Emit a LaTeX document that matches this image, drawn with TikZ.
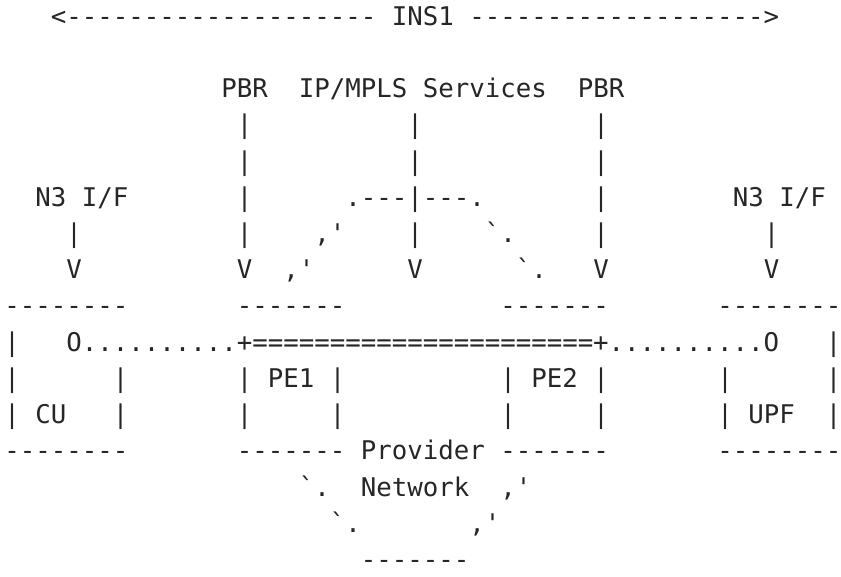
\documentclass[tikz,border=0pt]{standalone}
\usepackage{fontspec}
\setmonofont{DejaVu Sans Mono}
\tikzset{%
	ascii/.style = {font=\ttfamily\fontsize{12.87pt}{15pt}\selectfont, text=black!85, inner sep=0pt, text depth=0pt, anchor=base west, yshift=-4.7pt},
}
\begin{document}
\begin{tikzpicture}[x=7.75pt,y=-18.1pt]
	\useasboundingbox (-2pt,8pt) rectangle (418.5pt,-280.5pt);
	% INS1 span
	\node[ascii] (ins) at (3,0) {<{}-------------------- INS1 -------------------{}>};
	% PBR and services
	\node[ascii] (pbrA) at (14,2) {PBR};
	\node[ascii] (svc) at (19,2) {IP/MPLS Services};
	\node[ascii] (pbrB) at (37,2) {PBR};
	\node[ascii] (pbrAa) at (15,3) {|};
	\node[ascii] (svca) at (26,3) {|};
	\node[ascii] (pbrBa) at (38,3) {|};
	\node[ascii] (pbrAb) at (15,4) {|};
	\node[ascii] (svcb) at (26,4) {|};
	\node[ascii] (pbrBb) at (38,4) {|};
	% N3 interfaces
	\node[ascii] (nthreeA) at (2,5) {N3 I/F};
	\node[ascii] (pbrAc) at (15,5) {|};
	\node[ascii] (arc) at (22,5) {.---|---.};
	\node[ascii] (pbrBc) at (38,5) {|};
	\node[ascii] (nthreeB) at (47,5) {N3 I/F};
	\node[ascii] (nthreeAa) at (4,6) {|};
	\node[ascii] (pbrAd) at (15,6) {|};
	\node[ascii] (arcLa) at (20,6) {,'};
	\node[ascii] (svcd) at (26,6) {|};
	\node[ascii] (arcRa) at (31,6) {`.};
	\node[ascii] (pbrBd) at (38,6) {|};
	\node[ascii] (nthreeBa) at (49,6) {|};
	\node[ascii] (nthreeAv) at (4,7) {V};
	\node[ascii] (pbrAv) at (15,7) {V};
	\node[ascii] (arcLb) at (18,7) {,'};
	\node[ascii] (svcv) at (26,7) {V};
	\node[ascii] (arcRb) at (33,7) {`.};
	\node[ascii] (pbrBv) at (38,7) {V};
	\node[ascii] (nthreeBv) at (49,7) {V};
	% box tops
	\node[ascii] (cutop) at (0,8) {--------};
	\node[ascii] (peAtop) at (15,8) {-------};
	\node[ascii] (peBtop) at (32,8) {-------};
	\node[ascii] (upftop) at (46,8) {--------};
	% data path
	\node[ascii] (cuA) at (0,9) {|};
	\node[ascii] (path) at (4,9) {O..........+======================+..........O};
	\node[ascii] (upfA) at (53,9) {|};
	\node[ascii] (cuB) at (0,10) {|};
	\node[ascii] (cuBr) at (7,10) {|};
	\node[ascii] (peA) at (15,10) {| PE1 |};
	\node[ascii] (peB) at (32,10) {| PE2 |};
	\node[ascii] (upfB) at (46,10) {|};
	\node[ascii] (upfBr) at (53,10) {|};
	\node[ascii] (cu) at (0,11) {| CU};
	\node[ascii] (cuCr) at (7,11) {|};
	\node[ascii] (peAl) at (15,11) {|};
	\node[ascii] (peAr) at (21,11) {|};
	\node[ascii] (peBl) at (32,11) {|};
	\node[ascii] (peBr) at (38,11) {|};
	\node[ascii] (upf) at (46,11) {| UPF};
	\node[ascii] (upfCr) at (53,11) {|};
	% box bottoms, provider network
	\node[ascii] (cubot) at (0,12) {--------};
	\node[ascii] (prov) at (15,12) {------- Provider -------};
	\node[ascii] (upfbot) at (46,12) {--------};
	\node[ascii] (netL) at (19,13) {`.};
	\node[ascii] (net) at (23,13) {Network};
	\node[ascii] (netR) at (32,13) {,'};
	\node[ascii] (netLb) at (21,14) {`.};
	\node[ascii] (netRb) at (30,14) {,'};
	\node[ascii] (netbot) at (23,15) {-------};
\end{tikzpicture}
\end{document}
